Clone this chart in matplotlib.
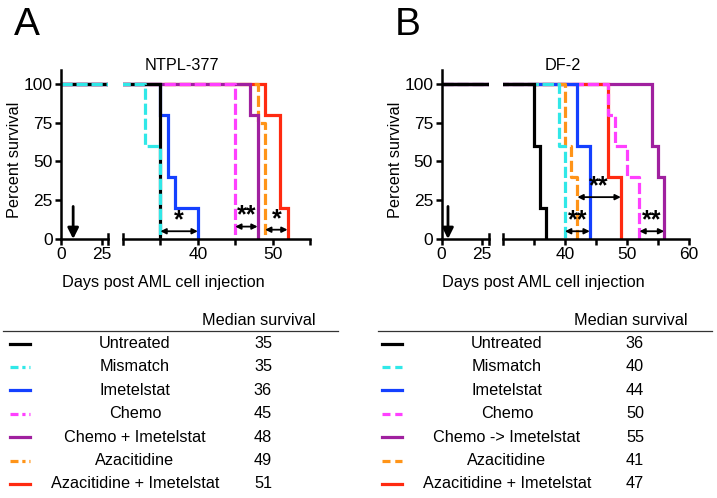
import matplotlib.pyplot as plt

plt.rcParams['font.family'] = ['Liberation Sans', 'DejaVu Sans']

# ---- data: event day -> survival (%) after that event ----
groups_a = ['Untreated', 'Mismatch', 'Imetelstat', 'Chemo', 'Chemo + Imetelstat',
            'Azacitidine', 'Azacitidine + Imetelstat']
median_a = [35, 35, 36, 45, 48, 49, 51]
days_a = [[35], [33, 35], [35, 36, 37, 40], [45], [47, 48], [48, 49], [49, 51, 52]]
surv_a = [[0], [60, 0], [80, 40, 20, 0], [0], [80, 0], [75, 0], [80, 20, 0]]
sig_a = [(35, 40, 5, '*'), (45, 48, 8, '**'), (49, 52, 6, '*')]
inj_a = 7.5

groups_b = ['Untreated', 'Mismatch', 'Imetelstat', 'Chemo', 'Chemo -> Imetelstat',
            'Azacitidine', 'Azacitidine + Imetelstat']
median_b = [36, 40, 44, 50, 55, 41, 47]
days_b = [[35, 36, 37], [39, 40], [42, 44], [47, 48, 50, 52], [54, 55, 56], [40, 41, 42], [47, 49]]
surv_b = [[60, 20, 0], [60, 0], [60, 0], [80, 60, 40, 0], [60, 40, 0], [60, 40, 0], [40, 0]]
sig_b = [(40, 44, 5, '**'), (42, 49, 27, '**'), (52, 56, 5, '**')]
inj_b = 4

colors = ['black', '#30e8e8', '#1440ff', '#ff40ff', '#a0209f', '#ff9418', '#ff2a10']
dashed = [False, True, False, True, False, True, False]

W, H = 717, 498
FS = 11.7
fig = plt.figure(figsize=(W / 100, H / 100), dpi=100)


def px(x0, x1, y0, y1):
    return [x0 / W, 1 - y1 / H, (x1 - x0) / W, (y1 - y0) / H]


def curve(days, surv):
    xs, ys = [0], [100]
    prev = 100
    for d, s in zip(days, surv):
        xs += [d, d]
        ys += [prev, s]
        prev = s
    return xs, ys


def draw_curves(ax, days, surv, order):
    for i in order:
        xs, ys = curve(days[i], surv[i])
        kw = dict(color=colors[i], lw=2.3, solid_joinstyle='miter')
        if dashed[i]:
            kw['dashes'] = (3.5, 1.2)
        ax.plot(xs, ys, **kw)


def panel(xl, xr0, xr1, xmax, rticks, rlabels, days, surv, order, sig, inj, title, letter):
    axl = fig.add_axes(px(xl, xl + 47, 70, 239))
    axr = fig.add_axes(px(xr0, xr1, 70, 239))
    for ax in (axl, axr):
        ax.set_ylim(0, 109)
        for s in ('top', 'right'):
            ax.spines[s].set_visible(False)
        ax.spines['bottom'].set_linewidth(1.8)
        ax.spines['left'].set_linewidth(1.8)
        ax.tick_params(width=1.8, length=4, labelsize=12.5, pad=2)
    axl.set_xlim(0, 29)
    axl.set_xticks([0, 25])
    axl.set_yticks([0, 25, 50, 75, 100])
    axl.plot([29, 29], [-3, 3], color='black', lw=1.8, clip_on=False)
    axr.set_xlim(30, xmax)
    axr.spines['left'].set_visible(False)
    axr.set_yticks([])
    axr.set_xticks(rticks)
    axr.set_xticklabels(rlabels)
    axr.plot([30, 30], [-3, 3], color='black', lw=1.8, clip_on=False)

    draw_curves(axl, days, surv, order)
    draw_curves(axr, days, surv, order)

    axl.annotate('', xy=(inj, 0), xytext=(inj, 21),
                 arrowprops=dict(arrowstyle='-|>', color='black', lw=2,
                                 mutation_scale=16, shrinkA=0, shrinkB=0))
    for x1, x2, y, star in sig:
        axr.annotate('', xy=(x2, y), xytext=(x1, y),
                     arrowprops=dict(arrowstyle='<|-|>', color='black', lw=1.3,
                                     mutation_scale=8, shrinkA=0, shrinkB=0))
        axr.text((x1 + x2) / 2, y + 7, star, ha='center', va='center',
                 fontsize=18, fontweight='bold')

    fig.text((xl - 61 + 182) / W, 1 - 65 / H, title, ha='center', va='center', fontsize=FS)
    fig.text((xl - 61 + 15) / W, 1 - 160 / H, 'Percent survival', rotation=90,
             ha='center', va='center', fontsize=FS)
    fig.text((xl + 1) / W, 1 - 283 / H, 'Days post AML cell injection',
             ha='left', va='center', fontsize=FS)
    fig.text((xl - 47) / W, 1 - 25 / H, letter, ha='left', va='center', fontsize=28)


panel(61, 123, 310, 55, [35, 40, 45, 50, 55], ['', '40', '', '50', ''],
      days_a, surv_a, [6, 5, 4, 3, 2, 0, 1], sig_a, inj_a, 'NTPL-377', 'A')
panel(441.5, 503, 689, 60, [35, 40, 45, 50, 55, 60], ['', '40', '', '50', '', '60'],
      days_b, surv_b, [4, 6, 3, 2, 5, 1, 0], sig_b, inj_b, 'DF-2', 'B')

# ---- legend tables ----
tab = fig.add_axes([0, 0, 1, 1])
tab.set_xlim(0, W)
tab.set_ylim(H, 0)
tab.axis('off')


def table(x0, xline0, xline1, groups, medians, dash):
    tab.text(x0 + 249, 320, 'Median survival', ha='center', va='center', fontsize=FS)
    tab.plot([xline0, xline1], [331, 331], color='#333333', lw=0.9)
    for i, (g, m) in enumerate(zip(groups, medians)):
        y = 343.5 + i * 23.4
        kw = dict(color=colors[i], lw=2.3)
        if dashed[i]:
            kw['dashes'] = dash
        tab.plot([x0, x0 + 20], [y, y], **kw)
        tab.text(x0 + 125, y, g, ha='center', va='center', fontsize=FS)
        tab.text(x0 + 253, y, str(m), ha='center', va='center', fontsize=FS)


table(10, 3, 338, groups_a, median_a, (2.5, 1.2, 1, 1.2))
table(382, 378, 712, groups_b, median_b, (2.5, 1.5))

fig.savefig('out.png', dpi=100)
